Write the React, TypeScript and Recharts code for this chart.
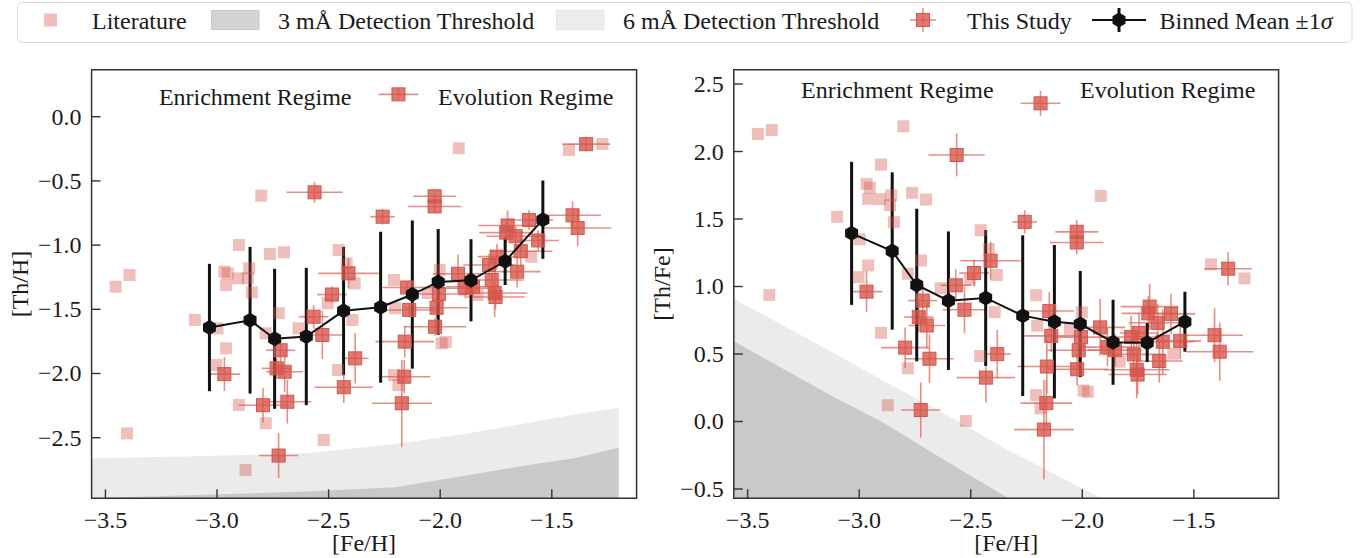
import React from 'react';
import {
  ComposedChart,
  Scatter,
  Area,
  XAxis,
  YAxis,
  ErrorBar,
  ReferenceArea,
  ReferenceDot,
} from 'recharts';

const FONT = '"Liberation Serif", "Times New Roman", serif';
const FS = 24;
const INK = '#1a1a1a';
const AXIS = '#333333';
const RED = '#d6564c';
const DARK_FILL = '#c9c9c9';
const LIGHT_FILL = '#ebebeb';

// ---- This Study ----
const studyFeH = [-2.563, -2.025, -2.025, -2.258, -2.411, -2.485, -2.567, -2.528, -2.148, -2.139, -2.159, -2.161, -2.172, -2.381, -2.432, -2.715, -2.733, -2.697, -2.685, -2.794, -2.967, -2.724, -1.346, -1.407, -1.384, -1.602, -1.698, -1.704, -1.662, -1.561, -1.639, -1.655, -1.746, -1.781, -1.769, -1.756, -1.752, -1.92, -1.887, -1.853, -2.006, -2.016, -2.023, -2.187];
const studyFeHErr = [0.126, 0.096, 0.12, 0.055, 0.135, 0.067, 0.067, 0.097, 0.11, 0.12, 0.131, 0.116, 0.134, 0.06, 0.13, 0.065, 0.067, 0.082, 0.108, 0.108, 0.071, 0.088, 0.108, 0.127, 0.15, 0.108, 0.13, 0.12, 0.13, 0.093, 0.142, 0.105, 0.086, 0.116, 0.142, 0.146, 0.13, 0.112, 0.135, 0.12, 0.12, 0.142, 0.14, 0.089];
const studyThH = [-0.589, -0.62, -0.699, -0.779, -1.22, -1.385, -1.558, -1.7, -1.33, -1.505, -1.752, -2.025, -2.232, -1.882, -2.107, -1.819, -1.96, -1.986, -2.22, -2.247, -2.005, -2.639, -0.214, -0.768, -0.867, -0.805, -0.847, -0.903, -0.931, -0.964, -1.048, -1.207, -1.09, -1.155, -1.272, -1.373, -1.404, -1.223, -1.336, -1.324, -1.381, -1.488, -1.636, 0.174];
const studyThHErr = [0.082, 0.05, 0.05, 0.061, 0.117, 0.065, 0.091, 0.188, 0.05, 0.05, 0.123, 0.13, 0.338, 0.195, 0.123, 0.097, 0.08, 0.156, 0.17, 0.136, 0.132, 0.175, 0.058, 0.11, 0.143, 0.078, 0.117, 0.08, 0.08, 0.08, 0.123, 0.123, 0.1, 0.09, 0.08, 0.188, 0.1, 0.15, 0.08, 0.07, 0.08, 0.08, 0.07, 0.04];
const studyThFe = [1.974, 1.405, 1.326, 1.479, 1.191, 1.1, 1.009, 0.828, 0.818, 0.634, 0.407, 0.136, -0.06, 0.499, 0.325, 0.896, 0.773, 0.711, 0.465, 0.547, 0.962, 0.085, 1.132, 0.639, 0.517, 0.797, 0.851, 0.801, 0.731, 0.597, 0.591, 0.448, 0.656, 0.626, 0.497, 0.383, 0.348, 0.697, 0.551, 0.529, 0.625, 0.528, 0.387, 2.357];
const studyThFeErr = [0.158, 0.09, 0.09, 0.086, 0.14, 0.1, 0.12, 0.173, 0.14, 0.12, 0.2, 0.17, 0.37, 0.18, 0.185, 0.12, 0.11, 0.17, 0.18, 0.15, 0.152, 0.204, 0.123, 0.2, 0.216, 0.15, 0.17, 0.13, 0.14, 0.135, 0.24, 0.16, 0.15, 0.16, 0.14, 0.21, 0.15, 0.21, 0.14, 0.12, 0.13, 0.13, 0.12, 0.093];

// ---- Literature ----
const litFeH = [-3.454, -3.392, -3.403, -3.099, -2.902, -2.802, -2.967, -2.952, -2.906, -2.862, -2.856, -2.96, -2.844, -2.763, -2.7, -2.998, -2.96, -3.003, -2.902, -2.782, -2.872, -2.723, -2.782, -2.635, -2.522, -2.455, -2.419, -2.383, -2.504, -2.393, -2.458, -2.207, -2.202, -2.207, -2.187, -2.002, -1.994, -1.975, -1.917, -1.832, -1.592, -1.423, -1.273, -2.056];
const litThH = [-1.324, -1.233, -2.466, -1.583, -0.999, -0.615, -1.207, -1.22, -1.259, -1.259, -1.181, -1.311, -1.368, -1.069, -1.056, -1.648, -1.804, -1.934, -2.245, -2.388, -2.752, -1.531, -1.687, -1.648, -2.518, -1.038, -1.142, -1.298, -1.453, -1.583, -1.973, -1.272, -1.492, -2.012, -2.09, -1.194, -1.765, -1.755, -0.246, -1.389, -1.09, -0.259, -0.213, -1.373];
const litThFe = [2.13, 2.159, 0.937, 1.516, 1.903, 2.187, 1.76, 1.732, 1.647, 1.603, 1.675, 1.649, 1.476, 1.694, 1.644, 1.35, 1.156, 1.069, 0.657, 0.394, 0.12, 1.192, 1.095, 0.987, 0.004, 1.417, 1.277, 1.085, 1.051, 0.81, 0.485, 0.935, 0.71, 0.195, 0.097, 0.808, 0.229, 0.22, 1.671, 0.443, 0.502, 1.164, 1.06, 0.683];

// ---- Binned mean ±1σ ----
const binFeH = [-3.034, -2.852, -2.742, -2.6, -2.433, -2.267, -2.125, -2.009, -1.862, -1.709, -1.54];
const binThH = [-1.642, -1.585, -1.73, -1.712, -1.512, -1.484, -1.385, -1.287, -1.274, -1.126, -0.802];
const binThHErr = [0.496, 0.571, 0.545, 0.535, 0.498, 0.588, 0.577, 0.412, 0.32, 0.185, 0.305];
const binThFe = [1.394, 1.263, 1.011, 0.895, 0.915, 0.784, 0.739, 0.722, 0.587, 0.584, 0.739];
const binThFeErr = [0.53, 0.583, 0.565, 0.513, 0.503, 0.595, 0.568, 0.393, 0.315, 0.144, 0.222];

// ---- Detection thresholds ----
const leftThreshFeH = [-3.562, -3.1, -2.6, -2.2, -1.87, -1.56, -1.4, -1.2];
const left6mA = [-2.66, -2.645, -2.622, -2.55, -2.466, -2.37, -2.32, -2.266];
const left3mA = [-2.972, -2.946, -2.92, -2.885, -2.79, -2.7, -2.66, -2.578];
const rightThreshFeH = [-3.562, -3.112, -2.9, -2.604, -2.33, -2.1, -1.915];
const right6mA = [0.91, 0.505, 0.31, 0.045, -0.215, -0.41, -0.569];
const right3mA: (number | null)[] = [0.595, 0.18, 0.0, -0.3, -0.569, null, null];

const xTicks = [-3.5, -3.0, -2.5, -2.0, -1.5];
const leftYTicks = [0.0, -0.5, -1.0, -1.5, -2.0, -2.5];
const rightYTicks = [2.5, 2.0, 1.5, 1.0, 0.5, 0.0, -0.5];

const X_DOMAIN: [number, number] = [-3.562, -1.12];

const fmt = (v: number) => v.toFixed(1).replace('-', '\u2212');

const makeYTick = (gap: number) => (props: any) => {
  const { x, y, payload } = props;
  const ax = x + gap;
  return (
    <g>
      <line x1={ax} x2={ax + 9} y1={y} y2={y} stroke={AXIS} strokeWidth={1.4} />
      <text x={x} y={y} textAnchor="end" dominantBaseline="central" fontFamily={FONT} fontSize={FS} fill={INK}>
        {fmt(payload.value)}
      </text>
    </g>
  );
};

const makeXTick = (gap: number) => (props: any) => {
  const { x, y, payload } = props;
  const ay = y - gap;
  return (
    <g>
      <line x1={x} x2={x} y1={ay} y2={ay - 9} stroke={AXIS} strokeWidth={1.4} />
      <text x={x} y={ay + 22} textAnchor="middle" dominantBaseline="central" fontFamily={FONT} fontSize={FS} fill={INK}>
        {fmt(payload.value)}
      </text>
    </g>
  );
};

const litSquare = (p: any) => (
  <rect x={p.cx - 6} y={p.cy - 6} width={12} height={12} fill={RED} fillOpacity={0.38} />
);

const studySquare = (p: any) => (
  <rect x={p.cx - 6.5} y={p.cy - 6.5} width={13} height={13} fill={RED} fillOpacity={0.8} stroke={RED} strokeWidth={1} />
);

const hexPoints = (cx: number, cy: number, r: number) =>
  [0, 1, 2, 3, 4, 5]
    .map((k) => {
      const a = ((-90 + 60 * k) * Math.PI) / 180;
      return `${cx + r * Math.cos(a)},${cy + r * Math.sin(a)}`;
    })
    .join(' ');

const hexagon = (p: any) => <polygon points={hexPoints(p.cx, p.cy, 7.5)} fill="#111" />;

const regimeLabel = (text: string) => (props: any) => {
  const vb = props.viewBox || {};
  const cx = (vb.x ?? vb.cx ?? 0) + (vb.width ?? 0) / 2;
  const cy = (vb.y ?? vb.cy ?? 0) + (vb.height ?? 0) / 2;
  return (
    <text x={cx} y={cy} textAnchor="middle" dominantBaseline="central" fontFamily={FONT} fontSize={FS} fill={INK}>
      {text}
    </text>
  );
};

type PanelProps = {
  width: number;
  margin: { top: number; right: number; bottom: number; left: number };
  yDomain: [number, number];
  yTicks: number[];
  yLabel: string;
  lit: { x: number; y: number }[];
  study: { x: number; y: number; xe: number; ye: number }[];
  bins: { x: number; y: number; e: number }[];
  thresh: { x: number; light: number | null; dark: number | null }[];
  regimeY: number;
};

function Panel({ width, margin, yDomain, yTicks, yLabel, lit, study, bins, thresh, regimeY }: PanelProps) {
  return (
    <ComposedChart width={width} height={558} data={thresh} margin={margin}>
      <XAxis
        type="number"
        dataKey="x"
        domain={X_DOMAIN}
        allowDataOverflow
        ticks={xTicks}
        interval={0}
        height={40}
        tickSize={0}
        tickMargin={2}
        axisLine={false}
        tickLine={false}
        tick={makeXTick(2)}
        label={{
          content: (p: any) => {
            const vb = p.viewBox;
            return (
              <text x={vb.x + vb.width / 2} y={vb.y + 45} textAnchor="middle" dominantBaseline="central" fontFamily={FONT} fontSize={FS} fill={INK}>
                [Fe/H]
              </text>
            );
          },
        }}
      />
      <YAxis
        type="number"
        dataKey="y"
        domain={yDomain}
        allowDataOverflow
        ticks={yTicks}
        interval={0}
        width={80}
        tickSize={0}
        tickMargin={10}
        axisLine={false}
        tickLine={false}
        tick={makeYTick(10)}
        label={{
          content: (p: any) => {
            const vb = p.viewBox;
            const lx = vb.x + 8.5;
            const ly = vb.y + vb.height / 2;
            return (
              <text x={lx} y={ly} transform={`rotate(-90 ${lx} ${ly})`} textAnchor="middle" dominantBaseline="central" fontFamily={FONT} fontSize={FS} fill={INK}>
                {yLabel}
              </text>
            );
          },
        }}
      />
      <Area dataKey="light" type="linear" baseValue="dataMin" fill={LIGHT_FILL} fillOpacity={1} stroke="none" isAnimationActive={false} />
      <Area dataKey="dark" type="linear" baseValue="dataMin" fill={DARK_FILL} fillOpacity={1} stroke="none" isAnimationActive={false} />
      <Scatter data={lit} shape={litSquare} isAnimationActive={false} />
      <Scatter data={study} shape={studySquare} isAnimationActive={false}>
        <ErrorBar dataKey="xe" direction="x" width={0} stroke="#de6a5f" strokeOpacity={0.75} strokeWidth={1.6} isAnimationActive={false} />
        <ErrorBar dataKey="ye" direction="y" width={0} stroke="#de6a5f" strokeOpacity={0.75} strokeWidth={1.6} isAnimationActive={false} />
      </Scatter>
      <Scatter data={bins} shape={hexagon} line={{ stroke: '#111', strokeWidth: 2 }} lineType="joint" isAnimationActive={false}>
        <ErrorBar dataKey="e" direction="y" width={0} stroke="#111" strokeWidth={3} isAnimationActive={false} />
      </Scatter>
      <ReferenceDot x={-2.829} y={regimeY} r={0.1} fillOpacity={0} strokeOpacity={0} ifOverflow="visible" label={{ content: regimeLabel('Enrichment Regime') }} />
      <ReferenceDot x={-1.617} y={regimeY} r={0.1} fillOpacity={0} strokeOpacity={0} ifOverflow="visible" label={{ content: regimeLabel('Evolution Regime') }} />
      <ReferenceArea
        x1={X_DOMAIN[0]}
        x2={X_DOMAIN[1]}
        y1={yDomain[0]}
        y2={yDomain[1]}
        fill="none"
        stroke={AXIS}
        strokeWidth={1.5}
        ifOverflow="visible"
      />
    </ComposedChart>
  );
}

function Legend() {
  return (
    <svg width={1372} height={48} style={{ position: 'absolute', left: 0, top: 0 }}>
      <rect x={17.5} y={2.5} width={1334.5} height={40} rx={5} fill="#fff" stroke="#d9d9d9" strokeWidth={1} />
      <rect x={44} y={13.5} width={13} height={13} fill={RED} fillOpacity={0.38} />
      <text x={92} y={21} dominantBaseline="central" fontFamily={FONT} fontSize={FS} fill={INK}>Literature</text>
      <rect x={211.5} y={10.5} width={47.5} height={19} fill="#d3d3d3" stroke="#c8c8c8" />
      <text x={278} y={21} dominantBaseline="central" fontFamily={FONT} fontSize={FS} fill={INK}>3 mÅ Detection Threshold</text>
      <rect x={556.5} y={10.5} width={47.5} height={19} fill="#ececec" stroke="#e4e4e4" />
      <text x={623} y={21} dominantBaseline="central" fontFamily={FONT} fontSize={FS} fill={INK}>6 mÅ Detection Threshold</text>
      <line x1={910} x2={936} y1={20} y2={20} stroke="#de6a5f" strokeOpacity={0.75} strokeWidth={1.6} />
      <line x1={923} x2={923} y1={8} y2={32} stroke="#de6a5f" strokeOpacity={0.75} strokeWidth={1.6} />
      <rect x={916.5} y={13.5} width={13} height={13} fill={RED} fillOpacity={0.8} stroke={RED} />
      <text x={967} y={21} dominantBaseline="central" fontFamily={FONT} fontSize={FS} fill={INK}>This Study</text>
      <line x1={1092} x2={1146} y1={20} y2={20} stroke="#111" strokeWidth={2} />
      <line x1={1119} x2={1119} y1={8} y2={32} stroke="#111" strokeWidth={3} />
      <polygon points={hexPoints(1119, 20, 7.5)} fill="#111" />
      <text x={1159.5} y={21} dominantBaseline="central" fontFamily={FONT} fontSize={FS} fill={INK}>
        Binned Mean ±1<tspan fontStyle="italic">σ</tspan>
      </text>
    </svg>
  );
}

export default function App() {
  const leftStudy = studyFeH.map((x, i) => ({ x, y: studyThH[i], xe: studyFeHErr[i], ye: studyThHErr[i] }));
  const rightStudy = studyFeH.map((x, i) => ({ x, y: studyThFe[i], xe: studyFeHErr[i], ye: studyThFeErr[i] }));
  const leftLit = litFeH.map((x, i) => ({ x, y: litThH[i] }));
  const rightLit = litFeH.map((x, i) => ({ x, y: litThFe[i] }));
  const leftBins = binFeH.map((x, i) => ({ x, y: binThH[i], e: binThHErr[i] }));
  const rightBins = binFeH.map((x, i) => ({ x, y: binThFe[i], e: binThFeErr[i] }));
  const leftThresh = leftThreshFeH.map((x, i) => ({ x, light: left6mA[i], dark: left3mA[i] }));
  const rightThresh = rightThreshFeH.map((x, i) => ({ x, light: right6mA[i], dark: right3mA[i] }));

  return (
    <div style={{ position: 'absolute', left: 0, top: 0, width: 1372, height: 558, background: '#fff', overflow: 'hidden' }}>
      <Legend />
      <div style={{ position: 'absolute', left: 0, top: 0 }}>
        <Panel
          width={642}
          margin={{ top: 69.7, right: 5.4, bottom: 19.7, left: 11.6 }}
          yDomain={[-2.972, 0.366]}
          yTicks={leftYTicks}
          yLabel="[Th/H]"
          lit={leftLit}
          study={leftStudy}
          bins={leftBins}
          thresh={leftThresh}
          regimeY={0.151}
        />
      </div>
      <div style={{ position: 'absolute', left: 642, top: 0 }}>
        <Panel
          width={730}
          margin={{ top: 69.7, right: 93.4, bottom: 19.7, left: 11.8 }}
          yDomain={[-0.569, 2.606]}
          yTicks={rightYTicks}
          yLabel="[Th/Fe]"
          lit={rightLit}
          study={rightStudy}
          bins={rightBins}
          thresh={rightThresh}
          regimeY={2.456}
        />
      </div>
    </div>
  );
}
